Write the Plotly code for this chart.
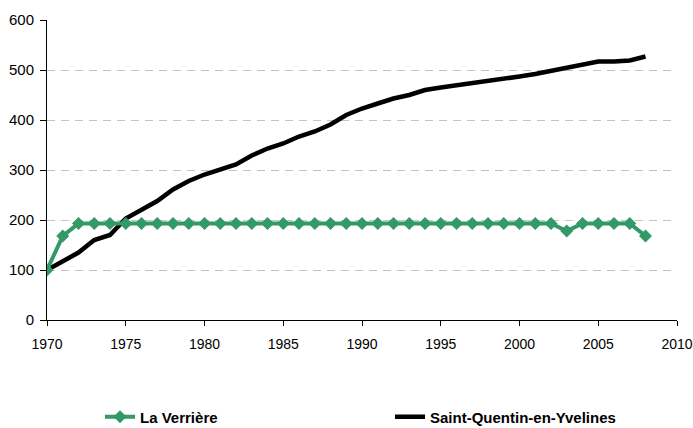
import plotly.graph_objects as go

years = list(range(1970, 2009))
la_verriere = [100, 168, 193, 193, 193, 193, 193, 193, 193, 193,
               193, 193, 193, 193, 193, 193, 193, 193, 193, 193,
               193, 193, 193, 193, 193, 193, 193, 193, 193, 193,
               193, 193, 193, 178, 193, 193, 193, 193, 168]
sqy = [100, 117, 135, 160, 170, 203, 221, 238, 261, 278,
       291, 301, 311, 329, 343, 353, 367, 377, 391, 410,
       423, 433, 443, 450, 460, 465, 469, 475, 479, 483,
       487, 492, 498, 504, 509, 517, 517, 519, 527]
x_ticks = [1970, 1975, 1980, 1985, 1990, 1995, 2000, 2005, 2010]
y_ticks = [0, 100, 200, 300, 400, 500, 600]

font_family = "Liberation Sans, Arial, sans-serif"
W, H = 693, 428

fig = go.Figure()
fig.add_trace(go.Scatter(
    x=years, y=sqy, name="Saint-Quentin-en-Yvelines", mode="lines",
    line=dict(color="#000000", width=4.5), legend="legend2"))
fig.add_trace(go.Scatter(
    x=years, y=la_verriere, name="La Verrière", mode="lines+markers",
    line=dict(color="#339966", width=4),
    marker=dict(symbol="diamond", size=10, color="#339966"), legend="legend"))

fig.update_layout(
    width=W, height=H,
    margin=dict(l=47, r=16, t=20, b=108, autoexpand=False),
    paper_bgcolor="white", plot_bgcolor="white",
    font=dict(family=font_family, size=15, color="#000000"),
    xaxis=dict(range=[1970, 2010], tickvals=x_ticks, ticks="outside", ticklen=5,
               tickcolor="#000", showline=True, linecolor="#000", linewidth=1,
               showgrid=False, zeroline=False, tickfont=dict(size=14),
               ticklabelstandoff=6,
               automargin=False, ticklabeloverflow="allow"),
    yaxis=dict(range=[0, 600], tickvals=y_ticks, ticks="outside", ticklen=6,
               tickcolor="#000", showline=True, linecolor="#000", linewidth=1,
               showgrid=True, gridcolor="#c4c4c4", griddash="8px,6px", gridwidth=1,
               zeroline=False, tickfont=dict(size=15), ticklabelstandoff=3,
               automargin=False, ticklabeloverflow="allow"),
    legend=dict(xref="container", yref="container", x=100/W, y=1-417/H,
                xanchor="left", yanchor="middle", orientation="h",
                font=dict(size=15, family=font_family, weight="bold"),
                bgcolor="rgba(0,0,0,0)"),
    legend2=dict(xref="container", yref="container", x=390/W, y=1-417/H,
                 xanchor="left", yanchor="middle", orientation="h",
                 font=dict(size=15, family=font_family, weight="bold"),
                 bgcolor="rgba(0,0,0,0)"),
    showlegend=True,
)

fig.write_html("out.html", config={"displayModeBar": False},
               post_script="document.body.style.margin='0';document.body.style.overflow='hidden';")
